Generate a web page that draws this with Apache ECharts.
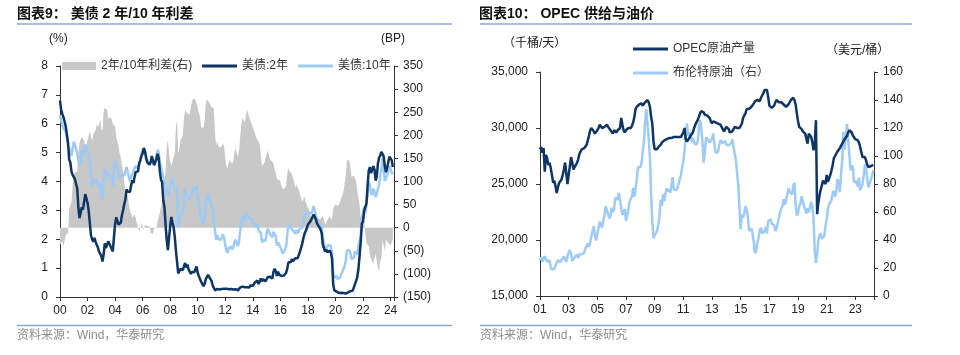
<!DOCTYPE html>
<html><head><meta charset="utf-8">
<script src="https://cdn.jsdelivr.net/npm/echarts@6/dist/echarts.min.js"></script>
<style>html,body{margin:0;padding:0;background:#fff}#c{width:960px;height:355px}</style>
</head><body><div id="c"></div>
<script>
// ---------- Left chart: US Treasury 2y / 10y (monthly) ----------
const ustStartYear = 2000; // first observation sits at the "00" tick
const ust2y = [
6.81,6.48,6.34,6.23,6.08,5.91,5.88,5.35,
4.76,4.66,4.34,4.23,4.26,4.08,4.04,3.76,3.12,2.73,2.78,3.11,
3.03,3.02,3.56,3.42,3.26,2.99,2.56,2.13,2.00,1.91,2.05,1.92,
1.80,1.72,1.57,1.62,1.42,1.23,1.47,1.86,1.69,1.75,1.93,1.91,
1.76,1.74,1.58,2.07,2.53,2.76,2.64,2.51,2.53,2.58,2.85,3.01,
3.22,3.38,3.73,3.65,3.64,3.64,3.87,4.04,3.95,4.17,4.33,4.39,
4.35,4.64,4.74,4.89,4.97,5.16,5.04,4.82,4.67,4.69,4.58,4.67,
4.88,4.85,4.57,4.67,4.77,4.96,4.82,4.34,4.06,3.97,3.34,3.12,
2.48,1.97,1.62,2.05,2.45,2.77,2.57,2.42,2.08,1.61,1.21,0.82,
0.81,0.98,0.93,0.93,0.92,1.18,1.02,1.12,0.96,0.95,0.80,0.87,
0.93,0.86,0.96,1.06,0.83,0.72,0.62,0.52,0.48,0.38,0.45,0.62,
0.61,0.77,0.70,0.73,0.56,0.41,0.41,0.23,0.21,0.28,0.25,0.26,
0.24,0.28,0.34,0.29,0.29,0.29,0.25,0.27,0.26,0.28,0.27,0.26,
0.27,0.27,0.26,0.23,0.25,0.33,0.34,0.36,0.40,0.34,0.30,0.34,
0.39,0.33,0.40,0.42,0.39,0.45,0.51,0.47,0.57,0.45,0.53,0.64,
0.55,0.62,0.64,0.54,0.61,0.69,0.67,0.70,0.71,0.64,0.88,0.98,
0.90,0.73,0.88,0.77,0.82,0.73,0.67,0.74,0.77,0.84,0.98,1.20,
1.21,1.20,1.31,1.24,1.30,1.34,1.37,1.34,1.38,1.56,1.70,1.84,
2.03,2.18,2.28,2.38,2.51,2.53,2.61,2.64,2.77,2.86,2.86,2.68,
2.54,2.50,2.41,2.34,2.21,1.81,1.84,1.57,1.65,1.55,1.61,1.61,
1.52,1.33,0.45,0.23,0.17,0.19,0.15,0.14,0.13,0.15,0.17,0.14,
0.13,0.12,0.15,0.16,0.16,0.20,0.22,0.22,0.24,0.44,0.56,0.68,
0.97,1.42,1.91,2.54,2.61,2.99,3.04,3.24,3.86,4.38,4.50,4.29,
4.26,4.53,4.42,4.03,4.17,4.62,4.83,4.90,5.03,5.08,4.87,4.53,
4.32,4.48,4.54,4.86,4.87,4.74,4.50
];
const ust10y = [
6.30,6.10,6.05,5.83,5.80,5.74,5.72,5.24,
5.16,5.10,4.89,5.14,5.39,5.28,5.24,4.97,4.73,4.57,4.65,5.09,
5.04,4.91,5.28,5.21,5.16,4.93,4.65,4.26,3.87,3.94,4.05,4.03,
4.05,3.90,3.81,3.96,3.57,3.33,3.98,4.45,4.27,4.29,4.30,4.27,
4.15,4.08,3.83,4.35,4.72,4.73,4.50,4.28,4.13,4.10,4.19,4.23,
4.22,4.17,4.50,4.34,4.14,4.00,4.18,4.26,4.20,4.46,4.54,4.47,
4.42,4.57,4.72,4.99,5.11,5.11,5.09,4.88,4.72,4.73,4.60,4.56,
4.76,4.72,4.56,4.69,4.75,5.10,5.00,4.67,4.52,4.53,4.15,4.10,
3.74,3.74,3.51,3.68,3.88,4.10,4.01,3.89,3.69,3.81,3.53,2.42,
2.52,2.87,2.82,2.93,3.29,3.72,3.56,3.59,3.40,3.39,3.40,3.59,
3.73,3.69,3.73,3.85,3.42,3.20,3.01,2.70,2.65,2.54,2.76,3.29,
3.39,3.58,3.41,3.46,3.17,3.00,3.00,2.30,1.98,2.15,2.01,1.98,
1.97,1.97,2.17,2.05,1.80,1.62,1.53,1.68,1.72,1.75,1.65,1.72,
1.91,1.98,1.96,1.76,1.93,2.30,2.58,2.74,2.81,2.62,2.72,2.90,
2.86,2.71,2.72,2.71,2.56,2.60,2.54,2.42,2.53,2.30,2.33,2.21,
1.88,1.98,2.04,1.94,2.20,2.36,2.32,2.17,2.17,2.07,2.26,2.24,
2.09,1.78,1.89,1.81,1.81,1.64,1.50,1.56,1.63,1.76,2.14,2.49,
2.43,2.42,2.48,2.30,2.30,2.19,2.32,2.21,2.20,2.36,2.35,2.40,
2.58,2.86,2.84,2.87,2.98,2.91,2.89,2.89,3.00,3.15,3.12,2.83,
2.71,2.68,2.57,2.53,2.40,2.07,2.06,1.63,1.70,1.71,1.81,1.86,
1.76,1.50,0.87,0.66,0.67,0.73,0.62,0.65,0.68,0.79,0.87,0.93,
1.08,1.26,1.61,1.64,1.62,1.52,1.32,1.28,1.37,1.58,1.56,1.47,
1.76,1.93,2.13,2.75,2.90,3.14,2.90,2.90,3.52,3.98,3.89,3.62,
3.53,3.75,3.66,3.46,3.57,3.75,3.90,4.17,4.38,4.80,4.50,4.02,
4.06,4.21,4.21,4.54,4.48,4.31,4.25
];
const ustSpreadBp = [
-37,-38,-29,-40,-28,-17,-16,-11,
40,44,55,91,113,120,120,121,161,184,187,198,
201,189,172,179,190,194,209,213,187,203,200,211,
225,218,224,234,215,210,251,259,258,254,237,236,
239,234,225,228,219,197,186,177,160,152,134,122,
100,79,77,69,50,36,31,22,25,29,21,8,
7,-7,-2,10,14,-5,5,6,5,4,2,-11,
-12,-13,-1,2,-2,14,18,33,46,56,81,98,
126,177,189,163,143,133,144,147,161,220,232,160,
171,189,189,200,237,254,254,247,244,244,260,272,
280,283,277,279,259,248,239,218,217,216,231,267,
278,281,271,273,261,259,259,207,177,187,176,172,
173,169,183,176,151,133,128,141,146,147,138,146,
164,171,170,153,168,197,224,238,241,228,242,256,
247,238,232,229,217,215,203,195,196,185,180,157,
133,136,140,140,159,167,165,147,146,143,138,126,
119,105,101,104,99,91,83,82,86,92,116,129,
122,122,117,106,100,85,95,87,82,80,65,56,
55,68,56,49,47,38,28,25,23,29,26,15,
17,18,16,19,19,26,22,6,5,16,20,25,
24,17,42,43,50,54,47,51,55,64,70,79,
95,114,146,148,146,132,110,106,113,114,100,79,
79,51,22,21,29,15,-14,-34,-34,-40,-61,-67,
-73,-78,-76,-57,-60,-87,-93,-73,-65,-28,-37,-51,
-26,-27,-33,-32,-39,-43,-25
];
const leftNames = ['2年/10年利差(右)', '美债:2年', '美债:10年'];

// ---------- Right chart: OPEC output & Brent (monthly from Jan 2001) ----------
const opecStartYear = 2001;
const opecOutput = [
28100,28300,27800,28200,26100,27600,27300,26700,26900,26400,25800,25100,
25300,24800,24200,24700,25100,25000,25400,25800,26300,26900,27000,25000,
24900,26600,27400,26900,26300,26200,26700,26900,27200,27700,27900,28100,
28000,28200,28200,28500,28900,29300,29800,30000,30100,29700,29500,29600,
29800,30000,30300,30200,30000,29900,30100,30200,30300,30100,30000,29800,
29700,29500,29800,29700,29600,29800,29700,30000,30900,30300,29800,29600,
29800,29900,30000,30100,30000,30200,30500,31000,31700,31900,32000,32100,
32000,32200,32000,32100,32300,32400,32500,32300,31900,31000,30400,28800,
28100,28000,28100,28300,28400,28500,28700,28800,28900,29000,29000,29100,
29100,29200,29100,29200,29200,29100,29200,29100,29200,29100,29200,29300,
29600,30000,29000,28800,28900,29100,29300,29400,29600,30000,30300,30500,
30700,31000,31300,31500,31600,31400,31200,31300,31100,31000,30900,30600,
30400,30600,30600,30500,30600,30400,30500,30300,30100,29900,29700,29800,
30100,30200,29900,29600,29500,29700,29900,30100,30200,30000,29900,30000,
30200,30400,30900,31100,31300,31700,31800,31700,31800,31900,31900,32200,
32400,32300,32500,32500,32400,32700,32900,33100,33400,33300,33400,32800,
32000,31900,31800,31800,32000,32300,32500,32400,32300,32200,32300,32200,
32100,32000,31900,32000,32100,32300,32500,32600,32700,32500,32100,31300,
30600,30100,30000,29900,29700,29700,29500,29600,28600,29500,29400,29200,
28700,28000,28600,30700,22300,23300,24000,24500,24600,25300,25400,25000,
25800,25200,25300,25800,26200,26700,27300,27500,27600,27900,28000,28200,
28300,28600,28800,29000,29100,29300,29600,29800,29900,29600,29300,29300,
29000,29000,28900,28700,28300,28200,27400,27300,27400,27100,26700,26500,
26500,26600,26500,26700
];
const brentPrice = [
25.6,27.5,24.5,25.7,28.4,27.7,24.5,25.7,25.6,20.5,18.8,18.7,
19.4,20.3,23.7,25.7,25.4,24.1,25.7,26.6,28.3,27.5,24.3,28.3,
31.2,32.8,30.3,25.0,25.8,27.6,28.4,29.8,27.1,29.6,28.8,29.8,
31.2,30.9,33.8,33.4,37.6,35.2,38.2,42.7,43.2,49.8,43.1,39.7,
44.3,45.6,53.1,51.9,48.7,54.3,57.5,64.1,62.9,58.5,55.4,56.9,
62.9,60.0,62.1,70.3,69.8,68.7,73.7,73.2,62.5,58.0,58.8,62.0,
53.7,57.6,62.1,67.4,67.5,71.3,77.2,70.8,77.0,82.5,92.1,91.5,
92.0,94.8,103.3,110.4,124.6,133.5,133.9,113.0,99.0,72.8,53.2,41.3,
43.4,43.3,46.5,50.2,57.3,68.6,64.4,72.5,67.7,73.2,77.0,74.7,
76.2,73.8,78.8,84.8,75.9,74.8,75.6,77.1,78.4,83.5,86.1,92.0,
96.5,103.7,114.6,123.3,114.5,113.9,116.7,110.2,112.8,109.6,110.8,107.9,
110.7,119.3,125.5,119.8,110.3,95.2,102.6,113.4,113.0,111.5,109.5,109.2,
112.3,116.1,108.5,102.3,102.6,102.9,107.9,111.3,111.6,109.1,107.8,110.8,
108.1,108.9,107.5,107.8,109.5,111.8,106.8,101.6,97.1,87.4,79.4,62.3,
47.8,58.1,55.9,59.5,64.1,61.5,56.6,46.5,47.6,48.4,44.3,38.0,
30.7,32.2,38.2,41.6,46.7,48.8,44.7,45.7,46.3,49.5,44.7,53.3,
54.6,54.9,51.6,52.3,50.3,46.4,48.5,51.7,56.2,57.5,62.7,64.4,
69.1,65.3,66.0,72.1,76.9,74.4,74.3,72.5,78.9,81.0,64.8,57.4,
59.4,64.0,66.1,71.2,71.3,64.2,63.9,59.0,62.8,59.7,63.2,67.3,
63.7,55.7,32.0,23.5,29.4,40.3,43.2,44.7,40.9,40.2,42.7,49.9,
54.8,62.3,65.4,64.8,68.5,73.2,75.2,70.8,74.5,83.5,81.1,74.2,
86.5,97.1,117.3,104.6,113.3,122.7,111.9,100.5,89.8,93.3,91.4,80.9,
82.5,82.6,78.4,84.6,75.5,74.8,80.1,86.2,94.0,90.6,82.9,77.6,
80.1,83.5,85.4,90.0
];
const rightNames = ['OPEC原油产量', '布伦特原油（右）'];

const titles = ['图表9： 美债 2 年/10 年利差', '图表10： OPEC 供给与油价'];
const sourceText = '资料来源：Wind，华泰研究';

// ---------- build ----------
const FONT = '"Liberation Sans", "Noto Sans CJK SC", sans-serif';
const DARK = '#0d3566';
const LIGHT = '#9dcbf6';
const GREY = '#c8c8c8';
const RULE = '#8ea9cf';
const monthly = (arr, start) => arr.map((v, i) => [start + i / 12, v]);
const yy = v => Math.abs(v - Math.round(v)) > 1e-6 ? '' : String(Math.round(v) % 100).padStart(2, '0');
const axisCommon = {
  axisLine: { show: true, lineStyle: { color: '#333', width: 1 } },
  axisTick: { show: true, length: 4, lineStyle: { color: '#333' } },
  splitLine: { show: false },
  axisLabel: { color: '#222', fontSize: 12, fontFamily: FONT }
};
function ax(extra) {
  const o = JSON.parse(JSON.stringify(axisCommon));
  for (const k in extra) {
    if (typeof extra[k] === 'object' && o[k]) Object.assign(o[k], extra[k]);
    else o[k] = extra[k];
  }
  return o;
}
const legendText = { fontSize: 12, color: '#333', fontFamily: FONT };

const chart = echarts.init(document.getElementById('c'), null, { renderer: 'canvas' });
chart.setOption({
  animation: false,
  backgroundColor: '#fff',
  textStyle: { fontFamily: FONT },
  grid: [
    { left: 60, top: 66, width: 334, height: 231 },
    { left: 540, top: 72, width: 334, height: 224 }
  ],
  xAxis: [
    ax({ type: 'value', gridIndex: 0, min: 2000, max: 2024.25, interval: 2,
         axisLabel: { formatter: yy, margin: 8 } }),
    ax({ type: 'value', gridIndex: 1, min: 2001, max: 2024.3, interval: 2,
         axisLabel: { formatter: yy, margin: 8 } })
  ],
  yAxis: [
    ax({ type: 'value', gridIndex: 0, position: 'left', min: 0, max: 8, interval: 1,
         axisLabel: { margin: 12 } }),
    ax({ type: 'value', gridIndex: 0, position: 'right', min: -150, max: 350, interval: 50,
         axisLabel: { margin: 9, formatter: v => v < 0 ? '(' + Math.abs(v) + ')' : String(v) } }),
    ax({ type: 'value', gridIndex: 1, position: 'left', min: 15000, max: 35000, interval: 5000,
         axisLabel: { margin: 12, formatter: v => v.toLocaleString('en-US') } }),
    ax({ type: 'value', gridIndex: 1, position: 'right', min: 0, max: 160, interval: 20,
         axisLabel: { margin: 9 } })
  ],
  legend: [
    { left: 57, top: 55, itemWidth: 34, itemHeight: 8, itemGap: 10, textStyle: legendText,
      data: [ { name: leftNames[0], icon: 'rect' } ] },
    { left: 197, top: 55, itemWidth: 35, itemHeight: 3, itemGap: 10, textStyle: legendText,
      data: [ { name: leftNames[1], icon: 'rect' }, { name: leftNames[2], icon: 'rect' } ] },
    { left: 628, top: 38, orient: 'vertical', itemWidth: 35, itemHeight: 3, itemGap: 12,
      textStyle: legendText,
      data: [ { name: rightNames[0], icon: 'rect' }, { name: rightNames[1], icon: 'rect' } ] }
  ],
  series: [
    { name: leftNames[0], type: 'line', xAxisIndex: 0, yAxisIndex: 1, symbol: 'none',
      data: monthly(ustSpreadBp, ustStartYear), color: GREY, itemStyle: { color: GREY },
      lineStyle: { width: 0, color: GREY }, areaStyle: { color: GREY, opacity: 1 }, z: 1 },
    { name: leftNames[2], type: 'line', xAxisIndex: 0, yAxisIndex: 0, symbol: 'none',
      data: monthly(ust10y, ustStartYear), color: LIGHT, itemStyle: { color: LIGHT },
      lineStyle: { width: 2.5, color: LIGHT }, z: 2 },
    { name: leftNames[1], type: 'line', xAxisIndex: 0, yAxisIndex: 0, symbol: 'none',
      data: monthly(ust2y, ustStartYear), color: DARK, itemStyle: { color: DARK },
      lineStyle: { width: 2.5, color: DARK }, z: 3 },
    { name: rightNames[1], type: 'line', xAxisIndex: 1, yAxisIndex: 3, symbol: 'none',
      data: monthly(brentPrice, opecStartYear), color: LIGHT, itemStyle: { color: LIGHT },
      lineStyle: { width: 2.5, color: LIGHT }, z: 2 },
    { name: rightNames[0], type: 'line', xAxisIndex: 1, yAxisIndex: 2, symbol: 'none',
      data: monthly(opecOutput, opecStartYear), color: DARK, itemStyle: { color: DARK },
      lineStyle: { width: 2.5, color: DARK }, z: 3 }
  ],
  graphic: [
    { type: 'text', left: 17, top: 7, style: { text: titles[0], font: 'bold 14px ' + FONT, fill: '#111' } },
    { type: 'text', left: 479, top: 7, style: { text: titles[1], font: 'bold 14px ' + FONT, fill: '#111' } },
    { type: 'line', shape: { x1: 17, y1: 24, x2: 452, y2: 24 }, style: { stroke: RULE, lineWidth: 1.5 } },
    { type: 'line', shape: { x1: 480, y1: 24, x2: 912, y2: 24 }, style: { stroke: RULE, lineWidth: 1.5 } },
    { type: 'line', shape: { x1: 17, y1: 325.5, x2: 452, y2: 325.5 }, style: { stroke: RULE, lineWidth: 1.5 } },
    { type: 'line', shape: { x1: 480, y1: 325.5, x2: 912, y2: 325.5 }, style: { stroke: RULE, lineWidth: 1.5 } },
    { type: 'text', left: 17, top: 330, style: { text: sourceText, font: '12px ' + FONT, fill: '#8c8c8c' } },
    { type: 'text', left: 480, top: 330, style: { text: sourceText, font: '12px ' + FONT, fill: '#8c8c8c' } },
    { type: 'text', left: 49, top: 33, style: { text: '(%)', font: '12px ' + FONT, fill: '#222' } },
    { type: 'text', left: 381, top: 33, style: { text: '(BP)', font: '12px ' + FONT, fill: '#222' } },
    { type: 'text', left: 503, top: 38, style: { text: '（千桶/天）', font: '12px ' + FONT, fill: '#222' } },
    { type: 'text', left: 826, top: 45, style: { text: '（美元/桶）', font: '12px ' + FONT, fill: '#222' } }
  ]
});
</script>
</body></html>
